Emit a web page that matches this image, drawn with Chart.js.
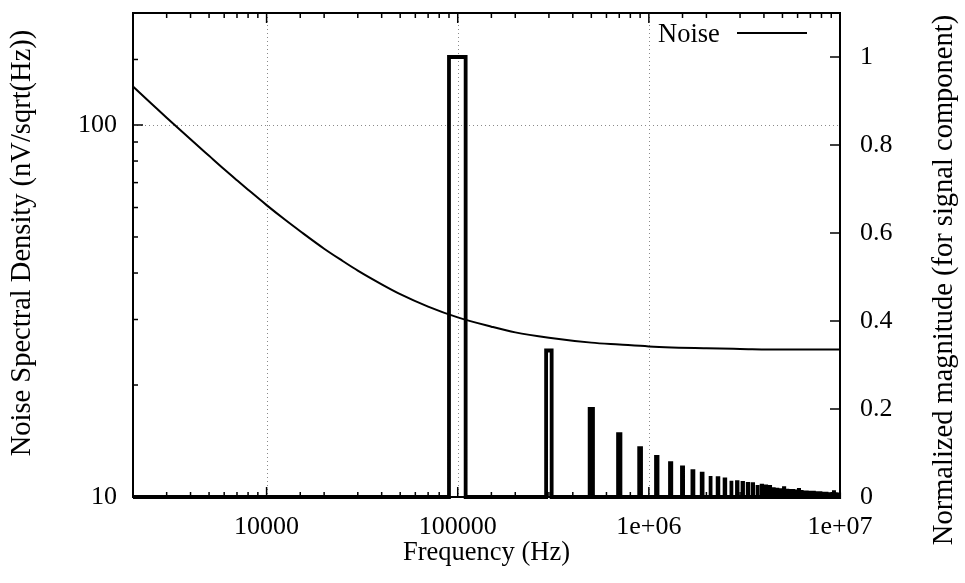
<!DOCTYPE html>
<html>
<head>
<meta charset="utf-8">
<script src="https://cdn.jsdelivr.net/npm/chart.js@4.4.1/dist/chart.umd.min.js"></script>
<style>
  html, body { margin: 0; padding: 0; background: #fff; }
  canvas { display: block; }
</style>
</head>
<body>
<canvas id="c" width="965" height="583"></canvas>
<script>
// ---- data ----
const noiseFreq = [2000, 2500, 3000, 4000, 5000, 6000, 7000, 8000, 10000, 12500, 15000, 20000, 25000, 30000, 40000, 50000, 70000, 100000, 150000, 200000, 300000, 500000, 700000, 1000000, 2000000, 3000000, 5000000, 10000000];
const noiseDensity = [126.9, 114.1, 104.6, 91.5, 82.6, 76.0, 71.0, 67.0, 60.9, 55.6, 51.8, 46.5, 43.1, 40.6, 37.3, 35.1, 32.5, 30.4, 28.7, 27.7, 26.8, 26.0, 25.7, 25.4, 25.1, 25.0, 24.9, 24.9];

const harmonicFreq = [100000, 300000, 500000, 700000, 900000, 1100000, 1300000, 1500000, 1700000, 1900000,
  2100000, 2300000, 2500000, 2700000, 2900000, 3100000, 3300000, 3500000, 3700000, 3900000,
  4100000, 4300000, 4500000, 4700000, 4900000, 5100000, 5300000, 5500000, 5700000, 5900000,
  6100000, 6300000, 6500000, 6700000, 6900000, 7100000, 7300000, 7500000, 7700000, 7900000,
  8100000, 8300000, 8500000, 8700000, 8900000, 9100000, 9300000, 9500000, 9700000, 9900000];
const harmonicMag = [1.000, 0.333, 0.200, 0.143, 0.111, 0.091, 0.077, 0.067, 0.059, 0.053,
  0.048, 0.043, 0.040, 0.037, 0.034, 0.032, 0.030, 0.029, 0.027, 0.026,
  0.024, 0.023, 0.022, 0.021, 0.020, 0.020, 0.019, 0.018, 0.018, 0.017,
  0.016, 0.016, 0.015, 0.015, 0.014, 0.014, 0.014, 0.013, 0.013, 0.013,
  0.012, 0.012, 0.012, 0.011, 0.011, 0.011, 0.011, 0.011, 0.010, 0.010];

const xTickValues = [10000, 100000, 1000000, 10000000];
const xTickLabels = ['10000', '100000', '1e+06', '1e+07'];
const yTickValues = [10, 100];
const yTickLabels = ['10', '100'];
const y2TickValues = [0, 0.2, 0.4, 0.6, 0.8, 1];
const y2TickLabels = ['0', '0.2', '0.4', '0.6', '0.8', '1'];
const xGridValues = [10000, 100000, 1000000];
const yGridValues = [100];

const xTitle = 'Frequency (Hz)';
const yTitle = 'Noise Spectral Density (nV/sqrt(Hz))';
const y2Title = 'Normalized magnitude (for signal component)';
const noiseLabel = 'Noise';

// ---- style constants ----
const FONT = '"Liberation Serif", "Times New Roman", serif';
const BAR_HALF_WIDTH_HZ = 10000;
const X_MIN = 2000, X_MAX = 10000000;

// ---- build datasets ----
const noisePoints = noiseFreq.map((f, i) => ({ x: f, y: noiseDensity[i] }));
const signalPoints = [{ x: X_MIN, y: 0 }];
harmonicFreq.forEach((f, i) => {
  const a = harmonicMag[i];
  signalPoints.push({ x: f - BAR_HALF_WIDTH_HZ, y: 0 });
  signalPoints.push({ x: f - BAR_HALF_WIDTH_HZ, y: a });
  signalPoints.push({ x: f + BAR_HALF_WIDTH_HZ, y: a });
  signalPoints.push({ x: f + BAR_HALF_WIDTH_HZ, y: 0 });
});
signalPoints.push({ x: X_MAX, y: 0 });

function labelFor(values, labels, v) {
  for (let i = 0; i < values.length; i++) {
    if (Math.abs(values[i] - v) <= 1e-6 * Math.max(1, Math.abs(v))) return labels[i];
  }
  return '';
}
function isDecade(v) {
  const l = Math.log10(v);
  return Math.abs(l - Math.round(l)) < 1e-9;
}
function noPad(s) {
  s.paddingTop = 0; s.paddingBottom = 0; s.paddingLeft = 0; s.paddingRight = 0;
}
function drawVerticalText(ctx, text, cx, cy, size) {
  ctx.save();
  ctx.fillStyle = '#000';
  ctx.font = size + 'px ' + FONT;
  ctx.translate(cx, cy);
  ctx.rotate(-Math.PI / 2);
  ctx.textAlign = 'center';
  ctx.textBaseline = 'middle';
  ctx.fillText(text, 0, 0);
  ctx.restore();
}

const framePlugin = {
  id: 'frame',
  beforeDatasetsDraw(chart) {
    const { ctx, chartArea: a, scales } = chart;
    ctx.save();
    ctx.strokeStyle = '#8a8a8a';
    ctx.lineWidth = 1;
    ctx.setLineDash([1, 3]);
    xGridValues.forEach(v => {
      const px = Math.round(scales.x.getPixelForValue(v)) + 0.5;
      ctx.beginPath(); ctx.moveTo(px, a.top); ctx.lineTo(px, a.bottom); ctx.stroke();
    });
    yGridValues.forEach(v => {
      const py = Math.round(scales.y.getPixelForValue(v)) + 0.5;
      ctx.beginPath(); ctx.moveTo(a.left, py); ctx.lineTo(a.right, py); ctx.stroke();
    });
    ctx.restore();
  },
  afterDatasetsDraw(chart) {
    const { ctx, chartArea: a, scales } = chart;
    ctx.save();
    ctx.strokeStyle = '#000';
    ctx.lineWidth = 1.5;
    ctx.setLineDash([]);
    scales.x.ticks.forEach(t => {
      const px = scales.x.getPixelForValue(t.value);
      const len = isDecade(t.value) ? 10 : 5;
      ctx.beginPath();
      ctx.moveTo(px, a.bottom); ctx.lineTo(px, a.bottom - len);
      ctx.moveTo(px, a.top); ctx.lineTo(px, a.top + len);
      ctx.stroke();
    });
    scales.y.ticks.forEach(t => {
      const py = scales.y.getPixelForValue(t.value);
      const len = isDecade(t.value) ? 10 : 5;
      ctx.beginPath(); ctx.moveTo(a.left, py); ctx.lineTo(a.left + len, py); ctx.stroke();
    });
    scales.y2.ticks.forEach(t => {
      const py = scales.y2.getPixelForValue(t.value);
      ctx.beginPath(); ctx.moveTo(a.right, py); ctx.lineTo(a.right - 10, py); ctx.stroke();
    });
    ctx.lineWidth = 2;
    ctx.strokeRect(a.left, a.top, a.right - a.left, a.bottom - a.top);
    ctx.restore();
  },
  afterDraw(chart) {
    const { ctx } = chart;
    ctx.save();
    ctx.fillStyle = '#000';
    ctx.font = '26.5px ' + FONT;
    ctx.textAlign = 'left';
    ctx.textBaseline = 'alphabetic';
    ctx.fillText(chart.data.datasets[0].label, 658, 42);
    ctx.strokeStyle = '#000';
    ctx.lineWidth = 2;
    ctx.beginPath(); ctx.moveTo(737, 33); ctx.lineTo(807, 33); ctx.stroke();
    ctx.restore();
    // axis titles (read bottom to top)
    drawVerticalText(ctx, yTitle, 22.5, 243, 28.5);
    drawVerticalText(ctx, y2Title, 945, 280, 28.5);
  }
};

Chart.defaults.font.family = FONT;
Chart.defaults.color = '#000';

new Chart(document.getElementById('c'), {
  type: 'line',
  data: {
    datasets: [
      {
        label: noiseLabel,
        data: noisePoints,
        yAxisID: 'y',
        borderColor: '#000',
        borderWidth: 2,
        pointRadius: 0,
        fill: false,
        cubicInterpolationMode: 'monotone',
        clip: false
      },
      {
        label: 'Signal',
        data: signalPoints,
        yAxisID: 'y2',
        borderColor: '#000',
        borderWidth: 3.8,
        pointRadius: 0,
        fill: false,
        tension: 0,
        borderJoinStyle: 'miter',
        clip: false
      }
    ]
  },
  options: {
    responsive: false,
    animation: false,
    devicePixelRatio: 1,
    layout: { padding: { top: 13, left: 0, right: 0, bottom: 0 } },
    plugins: { legend: { display: false }, tooltip: { enabled: false } },
    scales: {
      x: {
        type: 'logarithmic',
        position: 'bottom',
        min: X_MIN,
        max: X_MAX,
        grid: { display: false, drawTicks: false },
        border: { display: false },
        ticks: {
          autoSkip: false,
          maxRotation: 0,
          padding: 15,
          font: { size: 26 },
          callback: (v) => labelFor(xTickValues, xTickLabels, v)
        },
        title: { display: true, text: xTitle, font: { size: 26.5, lineHeight: 1 }, padding: { top: 0, bottom: 16.75 } },
        afterFit: (s) => { s.height = 86; noPad(s); }
      },
      y: {
        type: 'logarithmic',
        position: 'left',
        min: 10,
        max: 200,
        grid: { display: false, drawTicks: false },
        border: { display: false },
        ticks: {
          autoSkip: false,
          padding: 16,
          font: { size: 26 },
          callback: (v) => labelFor(yTickValues, yTickLabels, v)
        },
        title: { display: false, text: yTitle },
        afterFit: (s) => { s.width = 133; noPad(s); }
      },
      y2: {
        type: 'linear',
        position: 'right',
        min: 0,
        max: 1.1,
        grid: { display: false, drawTicks: false },
        border: { display: false },
        afterBuildTicks: (s) => { s.ticks = y2TickValues.map(v => ({ value: v })); },
        ticks: {
          autoSkip: false,
          padding: 20,
          font: { size: 26 },
          callback: (v) => labelFor(y2TickValues, y2TickLabels, v)
        },
        title: { display: false, text: y2Title },
        afterFit: (s) => { s.width = 125; noPad(s); }
      }
    }
  },
  plugins: [framePlugin]
});
</script>
</body>
</html>
